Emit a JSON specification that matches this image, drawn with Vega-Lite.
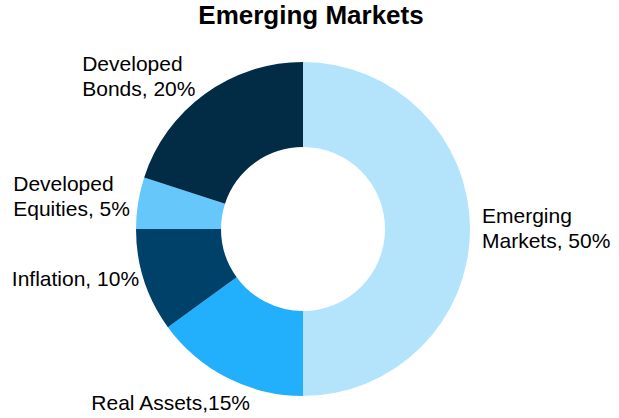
{
  "$schema": "https://vega.github.io/schema/vega-lite/v6.json",
  "width": 606,
  "height": 378,
  "autosize": {"type": "none"},
  "padding": {"top": 40, "left": 0, "right": 13, "bottom": 0},
  "background": "white",
  "title": {
    "text": "Emerging Markets",
    "font": "Liberation Sans",
    "fontSize": 26,
    "fontWeight": "bold",
    "color": "#000000",
    "anchor": "middle",
    "baseline": "alphabetic",
    "offset": 14,
    "dx": 8,
    "dy": 24
  },
  "config": {"view": {"stroke": null}},
  "data": {
    "values": [
      {"category": "Emerging Markets", "value": 50, "order": 1, "label": "Emerging\nMarkets, 50%"},
      {"category": "Real Assets", "value": 15, "order": 2, "label": "Real Assets,15%"},
      {"category": "Inflation", "value": 10, "order": 3, "label": "Inflation, 10%"},
      {"category": "Developed Equities", "value": 5, "order": 4, "label": "Developed\nEquities, 5%"},
      {"category": "Developed Bonds", "value": 20, "order": 5, "label": "Developed\nBonds, 20%"}
    ]
  },
  "encoding": {
    "theta": {"field": "value", "type": "quantitative", "stack": true},
    "order": {"field": "order", "type": "quantitative", "sort": "ascending"}
  },
  "layer": [
    {
      "mark": {"type": "arc", "innerRadius": 82, "outerRadius": 167},
      "encoding": {
        "color": {
          "field": "category",
          "type": "nominal",
          "scale": {
            "domain": ["Emerging Markets", "Real Assets", "Inflation", "Developed Equities", "Developed Bonds"],
            "range": ["#b3e4fc", "#22b0fc", "#00416a", "#66c7fb", "#022b45"]
          },
          "legend": null
        }
      }
    },
    {
      "mark": {"type": "text", "radius": 180, "align": "left", "baseline": "alphabetic", "dx": -1, "dy": -6, "font": "Liberation Sans", "fontSize": 21, "lineHeight": 25, "lineBreak": "\n", "color": "#000000"},
      "encoding": {"text": {"condition": {"test": "datum.category === 'Emerging Markets'", "field": "label"}, "value": ""}}
    },
    {
      "mark": {"type": "text", "radius": 180, "align": "left", "baseline": "alphabetic", "dx": -130, "dy": 21, "font": "Liberation Sans", "fontSize": 21, "lineHeight": 25, "lineBreak": "\n", "color": "#000000"},
      "encoding": {"text": {"condition": {"test": "datum.category === 'Real Assets'", "field": "label"}, "value": ""}}
    },
    {
      "mark": {"type": "text", "radius": 180, "align": "left", "baseline": "alphabetic", "dx": -120, "dy": 1, "font": "Liberation Sans", "fontSize": 21, "lineHeight": 25, "lineBreak": "\n", "color": "#000000"},
      "encoding": {"text": {"condition": {"test": "datum.category === 'Inflation'", "field": "label"}, "value": ""}}
    },
    {
      "mark": {"type": "text", "radius": 180, "align": "left", "baseline": "alphabetic", "dx": -112, "dy": -10, "font": "Liberation Sans", "fontSize": 21, "lineHeight": 25, "lineBreak": "\n", "color": "#000000"},
      "encoding": {"text": {"condition": {"test": "datum.category === 'Developed Equities'", "field": "label"}, "value": ""}}
    },
    {
      "mark": {"type": "text", "radius": 180, "align": "left", "baseline": "alphabetic", "dx": -115, "dy": -12, "font": "Liberation Sans", "fontSize": 21, "lineHeight": 25, "lineBreak": "\n", "color": "#000000"},
      "encoding": {"text": {"condition": {"test": "datum.category === 'Developed Bonds'", "field": "label"}, "value": ""}}
    }
  ]
}
